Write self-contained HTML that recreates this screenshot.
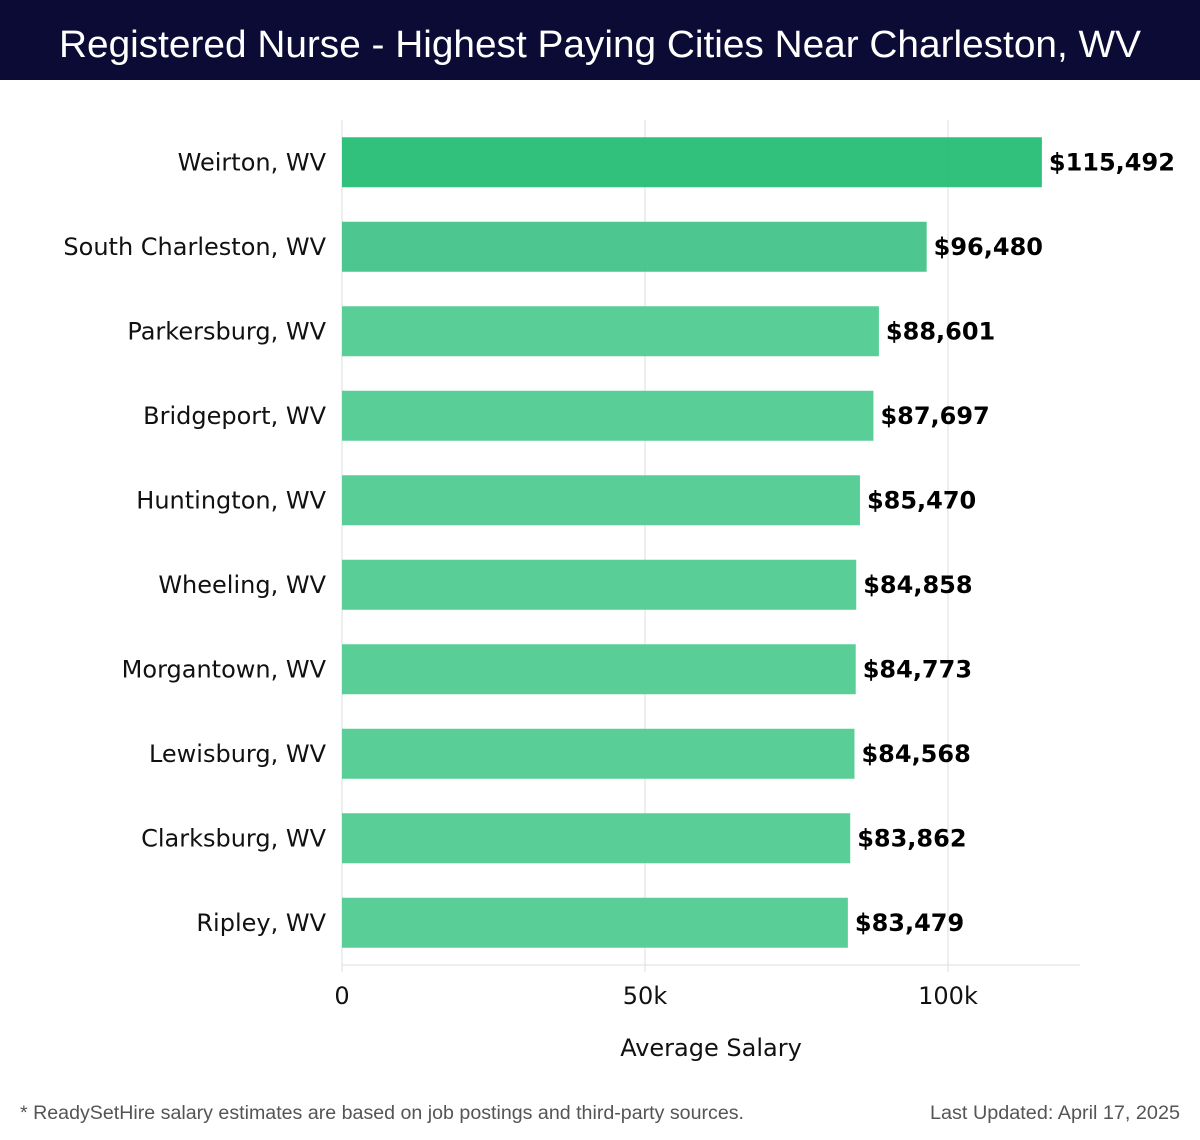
<!DOCTYPE html>
<html><head><meta charset="utf-8"><style>
body{margin:0;width:1200px;height:1140px;background:#fff;overflow:hidden;font-family:"Liberation Sans","DejaVu Sans",sans-serif}
svg{display:block}
.dv{font-family:"DejaVu Sans",sans-serif}
</style></head><body>
<svg id="chart" width="1200" height="1140" xmlns="http://www.w3.org/2000/svg">
<rect x="0" y="0" width="1200" height="80" fill="#0c0b35"/>
<text x="600" y="57" text-anchor="middle" fill="#fff" font-size="38" textLength="1082" lengthAdjust="spacingAndGlyphs" font-family="Liberation Sans, sans-serif">Registered Nurse - Highest Paying Cities Near Charleston, WV</text>
<g id="grid"></g><g id="bars"></g><g id="labels"></g>
<text class="dv" x="711" y="1056" text-anchor="middle" font-size="24" fill="#111">Average Salary</text>
<text x="20" y="1119" font-size="19" fill="#555" textLength="724" lengthAdjust="spacingAndGlyphs">* ReadySetHire salary estimates are based on job postings and third-party sources.</text>
<text x="1180" y="1119" text-anchor="end" font-size="19" fill="#555" textLength="250" lengthAdjust="spacingAndGlyphs">Last Updated: April 17, 2025</text>
</svg>
<script>
const cities=["Weirton, WV","South Charleston, WV","Parkersburg, WV","Bridgeport, WV","Huntington, WV","Wheeling, WV","Morgantown, WV","Lewisburg, WV","Clarksburg, WV","Ripley, WV"];
const salaries=[115492,96480,88601,87697,85470,84858,84773,84568,83862,83479];
const ticks=[0,50000,100000];
const tickLabels=["0","50k","100k"];
const NS="http://www.w3.org/2000/svg";
const x0=342,pxPer=303/50000,plotTop=120,band=84.5,barH=50,plotRight=1080;
const xs=v=>x0+v*pxPer;
const ys=i=>plotTop+i*band+(band-barH)/2;
const gG=document.getElementById('grid'),gB=document.getElementById('bars'),gL=document.getElementById('labels');
function mk(tag,attrs,parent,txt){const e=document.createElementNS(NS,tag);for(const k in attrs)e.setAttribute(k,attrs[k]);if(txt!==undefined)e.textContent=txt;parent.appendChild(e);return e;}
ticks.forEach((t,i)=>{
  const gl=mk('line',{x1:xs(t),x2:xs(t),y1:plotTop,y2:972,stroke:'#ddd','stroke-width':1},gG);
  
  
  const tl=mk('text',{x:xs(t),y:1004,'text-anchor':'middle','font-size':24,fill:'#111',class:'dv'},gG,tickLabels[i]);
  
  
});
const ax=mk('line',{x1:x0,x2:plotRight,y1:965,y2:965,stroke:'#ddd','stroke-width':1},gG);


cities.forEach((c,i)=>{
  const y=ys(i);
  const col=i===0?'#2abf78':(i===1?'#47c48b':'#55cc94');
  const r=mk('rect',{x:x0,y:y,width:xs(salaries[i])-x0,height:barH,fill:col,'fill-opacity':0.97},gB);
  
  
  const cl=mk('text',{x:326,y:y+barH/2+8,'text-anchor':'end','font-size':24,fill:'#111',class:'dv'},gL,c);
  
  
  const vl=mk('text',{x:xs(salaries[i])+7,y:y+barH/2+8,'font-size':24,'font-weight':'bold',fill:'#000',class:'dv'},gL,'$'+salaries[i].toLocaleString('en-US'));
  
  
});
</script>
</body></html>
